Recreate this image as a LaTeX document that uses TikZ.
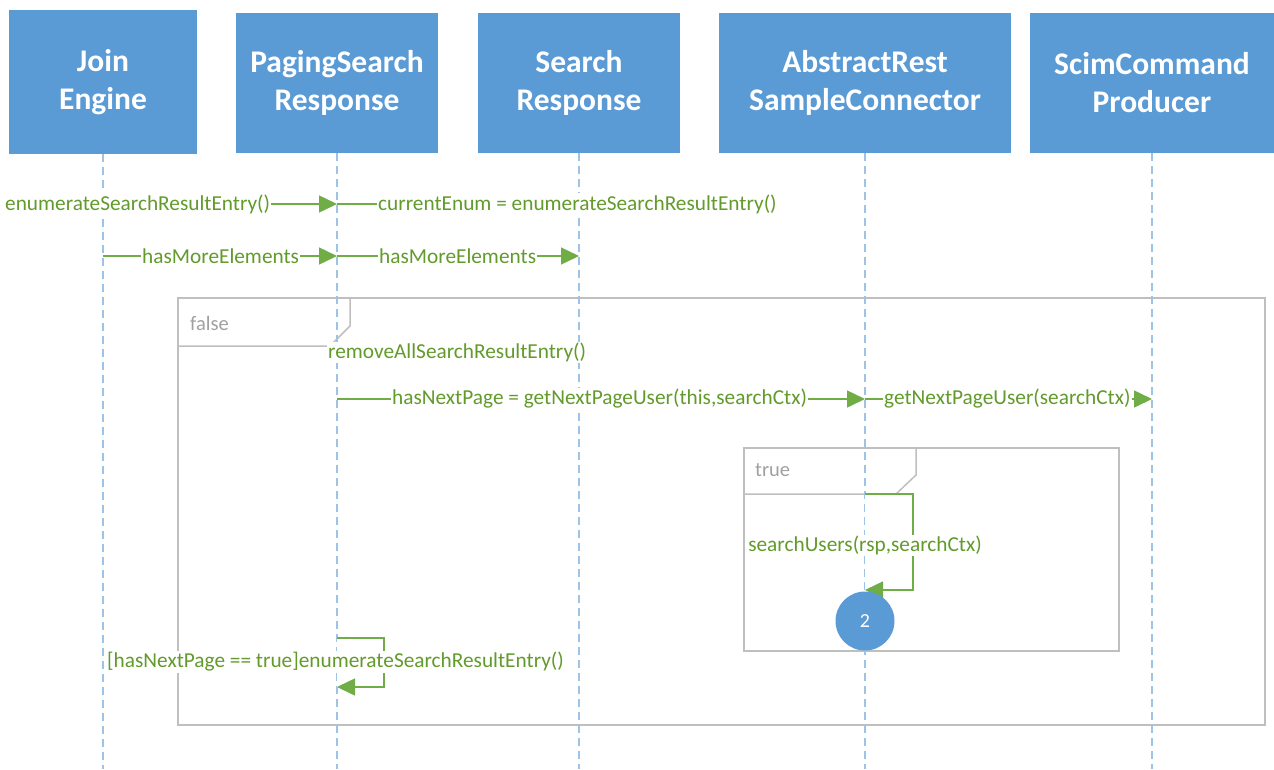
\documentclass[tikz,border=0pt]{standalone}
\usepackage{fontspec}
\setmainfont{Carlito}
\usetikzlibrary{arrows.meta}
\definecolor{headblue}{HTML}{5B9BD5}
\definecolor{lifeblue}{HTML}{9DC3E6}
\definecolor{msggreen}{HTML}{70AD47}
\definecolor{msgtext}{HTML}{629B2B}
\definecolor{fraggray}{HTML}{BFBFBF}
\definecolor{tabtext}{HTML}{A0A0A0}
\begin{document}
\begin{tikzpicture}[x=1pt,y=-1pt,
  head/.style={fill=headblue, draw=none, text=white, align=center, inner sep=0pt,
    font=\fontsize{31.5}{38}\selectfont\bfseries},
  life/.style={draw=lifeblue, line width=1.5pt, dash pattern=on 8pt off 5pt},
  frag/.style={draw=fraggray, line width=1.5pt},
  tab/.style={text=tabtext, font=\fontsize{20.5}{24}\selectfont, anchor=west, inner sep=0pt},
  msg/.style={text=msgtext, font=\fontsize{21.3}{25}\selectfont, fill=white, inner sep=1pt},
  plain/.style={draw=msggreen, line width=1.5pt},
  call/.style={plain, -{Triangle[length=18pt,width=17pt]}},
]
\useasboundingbox (0,0) rectangle (1274,769);
\coordinate (bottom) at (0,769);

% participants
\node[head, minimum width=188pt, minimum height=144pt] (je) at (103,82) {Join\\Engine};
\node[head, minimum width=202pt, minimum height=140pt] (ps) at (337,83) {PagingSearch\\Response};
\node[head, minimum width=202pt, minimum height=140pt] (sr) at (579,83) {Search\\Response};
\node[head, minimum width=292pt, minimum height=140pt] (ar) at (865,83) {AbstractRest\\SampleConnector};
\node[head, minimum width=244pt, minimum height=140pt] (sc) at (1152,83) {ScimCommand\\Producer};

% combined fragments
\draw[frag] (178,298) rectangle (1265,725);
\draw[frag] (178,346) -- (330,346) -- (350,326) -- (350,298);
\node[tab] (fl) at (190,323) {false};
\draw[frag] (744,448) rectangle (1119,651);
\draw[frag] (744,494) -- (896,494) -- (916,475) -- (916,448);
\node[tab] (tl) at (755,470) {true};

% lifelines
\foreach \p in {je,ps,sr,ar,sc}
  \draw[life] (\p.south) -- (\p.south |- bottom);

% self calls (white interior hides the lifeline)
\coordinate (ra) at (913,494);
\coordinate (rb) at (913,590);
\fill[white] (ar.south |- ra) rectangle (rb);
\draw[call] (ar.south |- ra) -- (ra) -- (rb) -- (ar.south |- rb);
\node[msg] (m8) at (ar.south |- 0,545) {searchUsers(rsp,searchCtx)};

\coordinate (la) at (384,638);
\coordinate (lb) at (384,687);
\fill[white] (ps.south |- la) rectangle (lb);
\draw[call] (ps.south |- la) -- (la) -- (lb) -- (ps.south |- lb);
\node[msg, anchor=west] (m9) at (106,662) {[hasNextPage == true]enumerateSearchResultEntry()};

% messages
\node[msg, anchor=west] (m1) at (4,204) {enumerateSearchResultEntry()};
\draw[call] (m1.east) -- (m1.east -| ps.south);
\node[msg, anchor=west] (m2) at (377,204) {currentEnum = enumerateSearchResultEntry()};
\draw[plain] (m2.west -| ps.south) -- (m2.west);

\node[msg, anchor=west] (m3) at (141,256) {hasMoreElements};
\draw[plain] (m3.west -| je.south) -- (m3.west);
\draw[call] (m3.east) -- (m3.east -| ps.south);
\node[msg, anchor=west] (m4) at (378,256) {hasMoreElements};
\draw[plain] (m4.west -| ps.south) -- (m4.west);
\draw[call] (m4.east) -- (m4.east -| sr.south);

\node[msg, anchor=west] (m5) at (327,352) {removeAllSearchResultEntry()};

\node[msg, anchor=west] (m6) at (391,399) {hasNextPage = getNextPageUser(this,searchCtx)};
\draw[plain] (m6.west -| ps.south) -- (m6.west);
\draw[call] (m6.east) -- (m6.east -| ar.south);
\node[msg, anchor=west] (m7) at (883,399) {getNextPageUser(searchCtx)};
\draw[plain] (m7.west -| ar.south) -- (m7.west);
\draw[call] (m7.east) -- (m7.east -| sc.south);

% activation marker
\node[circle, fill=headblue, minimum size=59pt, inner sep=0pt, text=white,
  font=\fontsize{20}{22}\selectfont] (c2) at (865,621) {2};
\end{tikzpicture}
\end{document}
